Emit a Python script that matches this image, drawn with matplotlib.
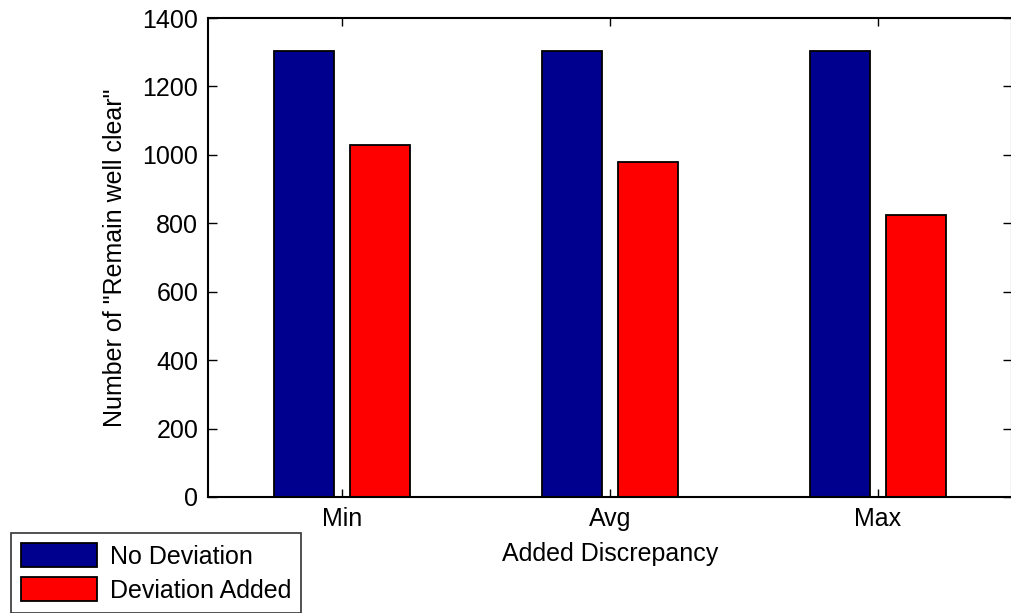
import matplotlib
matplotlib.use("Agg")
import matplotlib.pyplot as plt
import numpy as np

plt.rcParams['font.family'] = ['Liberation Sans', 'DejaVu Sans']

categories = ["Min", "Avg", "Max"]
no_deviation = [1305, 1305, 1305]
deviation_added = [1030, 978, 823]
series_labels = ["No Deviation", "Deviation Added"]
y_ticks = [0, 200, 400, 600, 800, 1000, 1200, 1400]

FS = 18
W, H = 1012, 613
fig = plt.figure(figsize=(W / 100, H / 100), dpi=100)
ax_left, ax_right, ax_top, ax_bottom = 208, 1012, 18, 497
ax = fig.add_axes([ax_left / W, 1 - ax_bottom / H,
                   (ax_right - ax_left) / W, (ax_bottom - ax_top) / H])

x = np.arange(1, len(categories) + 1)
bw = 0.227
off = 0.142
b1 = ax.bar(x - off, no_deviation, bw, color="#00008F", edgecolor="black",
            linewidth=1.3, label=series_labels[0])
b2 = ax.bar(x + off, deviation_added, bw, color="#FF0000", edgecolor="black",
            linewidth=1.3, label=series_labels[1])

ax.set_xlim(0.5, 3.5)
ax.set_ylim(0, 1400)
ax.set_xticks(x)
ax.set_xticklabels(categories)
ax.set_yticks(y_ticks)
ax.tick_params(axis="both", direction="in", labelsize=FS, width=1, length=6,
               top=True, right=True, colors="black")
ax.tick_params(axis="y", length=6.5, pad=7)
ax.tick_params(axis="x", pad=7)
for s in ax.spines.values():
    s.set_linewidth(1.5)

ax.set_xlabel("Added Discrepancy", fontsize=FS, labelpad=8)
ax.set_ylabel('Number of "Remain well clear"', fontsize=FS, labelpad=11)

leg = fig.legend(handles=[b1, b2], labels=series_labels,
                 loc="upper left", bbox_to_anchor=(11 / W, 1 - 533 / H),
                 borderaxespad=0, fontsize=FS, frameon=True, fancybox=False,
                 handlelength=3.05, handleheight=1.1, handletextpad=0.5,
                 labelspacing=0.35, borderpad=0.4)
frame = leg.get_frame()
frame.set_edgecolor("black")
frame.set_linewidth(1.2)

fig.savefig("out.png", dpi=100)
